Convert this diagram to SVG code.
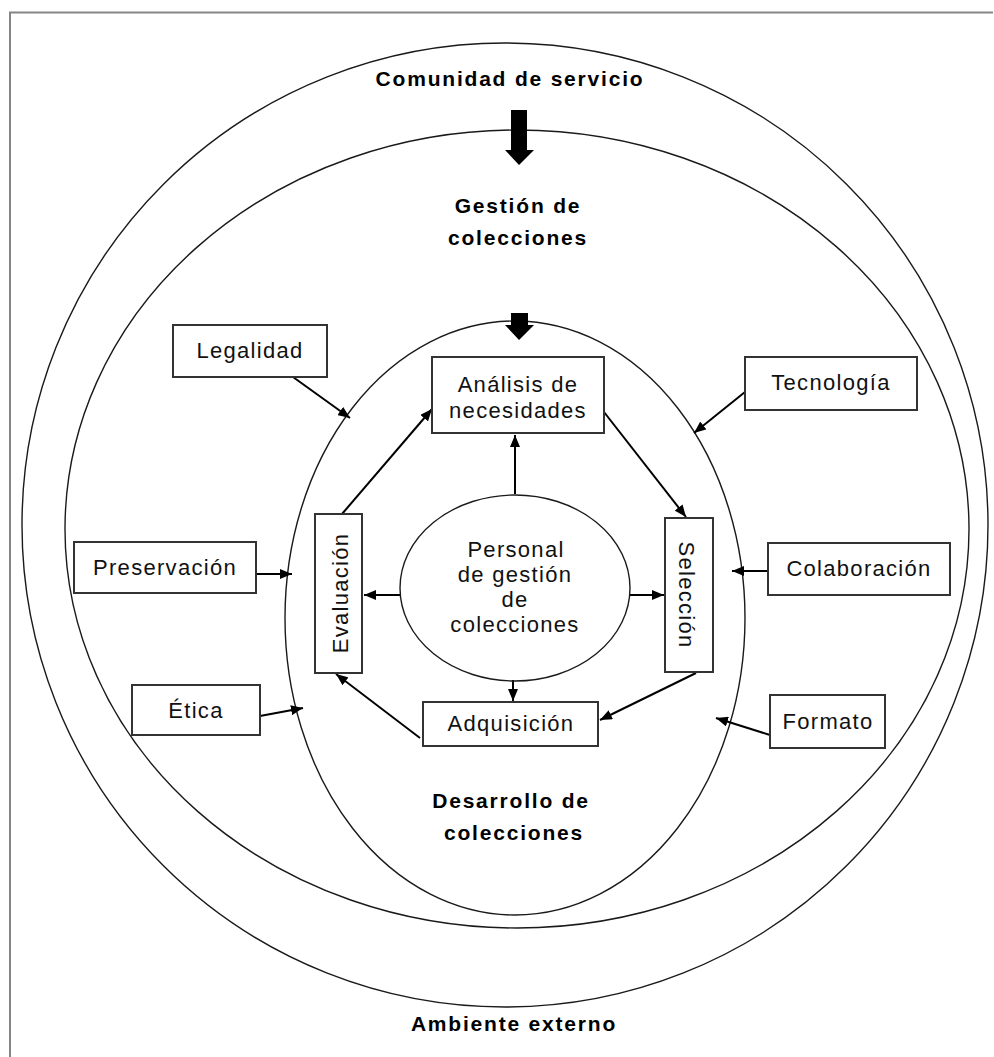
<svg xmlns="http://www.w3.org/2000/svg" width="994" height="1057" viewBox="0 0 994 1057">
  <style>
    .ring { fill: none; stroke: #1a1a1a; stroke-width: 1.4; }
    .box { fill: #ffffff; stroke: #333333; stroke-width: 2; }
    .lbl { font-family: "Liberation Sans", Arial, sans-serif; font-size: 22px; letter-spacing: 1.3px; fill: #111111; text-anchor: middle; }
    .hd { font-family: "Liberation Sans", Arial, sans-serif; font-size: 21px; font-weight: bold; letter-spacing: 1.8px; fill: #000000; text-anchor: middle; }
    .con { fill: none; stroke: #000000; stroke-width: 2; marker-end: url(#tip); }
    .block { fill: #000000; stroke: none; }
  </style>
  <defs>
    <marker id="tip" viewBox="0 0 12 10" refX="12" refY="5" markerWidth="12" markerHeight="10" markerUnits="userSpaceOnUse" orient="auto">
      <path d="M0,0 L12,5 L0,10 z" fill="#000000"/>
    </marker>
  </defs>

  <rect width="994" height="1057" fill="#ffffff"/>
  <!-- frame edges -->
  <path d="M10,1057 L10,12.5 L993,12.5" fill="none" stroke="#858585" stroke-width="2"/>

  <!-- nested scopes -->
  <g id="comunidad">
    <ellipse class="ring" cx="505" cy="525" rx="483" ry="482"/>
    <text class="hd" x="510" y="86">Comunidad de servicio</text>
  </g>
  <g id="gestion">
    <ellipse class="ring" cx="517" cy="529" rx="452" ry="399"/>
    <text class="hd" x="518" y="213">Gestión de</text>
    <text class="hd" x="518" y="245">colecciones</text>
  </g>
  <g id="desarrollo">
    <ellipse class="ring" cx="515" cy="618" rx="230" ry="297"/>
    <text class="hd" x="511" y="808">Desarrollo de</text>
    <text class="hd" x="514" y="840">colecciones</text>
  </g>
  <g id="ambiente">
    <text class="hd" x="514" y="1031">Ambiente externo</text>
  </g>

  <!-- block arrows -->
  <g id="flujo">
    <path class="block" d="M511,110 L527,110 L527,150 L534,150 L519,165 L505,150 L511,150 z"/>
    <path class="block" d="M511,313 L528,313 L528,325 L534,325 L519,340 L505,325 L511,325 z"/>
  </g>

  <!-- connectors -->
  <g id="connectors">
    <line class="con" x1="293" y1="377" x2="350" y2="418"/>
    <line class="con" x1="745" y1="392" x2="694" y2="433"/>
    <line class="con" x1="256" y1="574" x2="292" y2="574"/>
    <line class="con" x1="768" y1="571" x2="732" y2="571"/>
    <line class="con" x1="260" y1="716" x2="303" y2="708"/>
    <line class="con" x1="770" y1="735" x2="716" y2="718"/>
    <line class="con" x1="342" y1="514" x2="432" y2="409"/>
    <line class="con" x1="604" y1="412" x2="686" y2="517"/>
    <line class="con" x1="515" y1="494" x2="515" y2="435"/>
    <line class="con" x1="401" y1="595" x2="364" y2="595"/>
    <line class="con" x1="630" y1="595" x2="664" y2="595"/>
    <line class="con" x1="513" y1="680" x2="513" y2="701"/>
    <line class="con" x1="696" y1="673" x2="600" y2="720"/>
    <line class="con" x1="420" y1="738" x2="336" y2="674"/>
  </g>

  <g id="personal">
    <ellipse class="ring" cx="515" cy="588" rx="115" ry="93"/>
    <text class="lbl" x="516" y="557">Personal</text>
    <text class="lbl" x="515" y="582">de gestión</text>
    <text class="lbl" x="515" y="607">de</text>
    <text class="lbl" x="515" y="632">colecciones</text>
  </g>

  <g id="analisis">
    <rect class="box" x="432" y="357" width="172" height="76"/>
    <text class="lbl" x="518" y="392">Análisis de</text>
    <text class="lbl" x="518" y="418">necesidades</text>
  </g>
  <g id="evaluacion">
    <rect class="box" x="315" y="514" width="47" height="159"/>
    <text class="lbl" transform="translate(348,593) rotate(-90)" x="0" y="0">Evaluación</text>
  </g>
  <g id="seleccion">
    <rect class="box" x="665" y="518" width="48" height="154"/>
    <text class="lbl" transform="translate(679,595) rotate(90)" x="0" y="0">Selección</text>
  </g>
  <g id="adquisicion">
    <rect class="box" x="423" y="702" width="175" height="44"/>
    <text class="lbl" x="511" y="731">Adquisición</text>
  </g>
  <g id="legalidad">
    <rect class="box" x="173" y="325" width="154" height="52"/>
    <text class="lbl" x="250" y="358">Legalidad</text>
  </g>
  <g id="tecnologia">
    <rect class="box" x="745" y="357" width="172" height="53"/>
    <text class="lbl" x="831" y="390">Tecnología</text>
  </g>
  <g id="preservacion">
    <rect class="box" x="74" y="542" width="182" height="51"/>
    <text class="lbl" x="165" y="575">Preservación</text>
  </g>
  <g id="colaboracion">
    <rect class="box" x="768" y="543" width="182" height="52"/>
    <text class="lbl" x="859" y="576">Colaboración</text>
  </g>
  <g id="etica">
    <rect class="box" x="132" y="685" width="128" height="50"/>
    <text class="lbl" x="196" y="718">Ética</text>
  </g>
  <g id="formato">
    <rect class="box" x="770" y="695" width="115" height="53"/>
    <text class="lbl" x="828" y="729">Formato</text>
  </g>
</svg>
